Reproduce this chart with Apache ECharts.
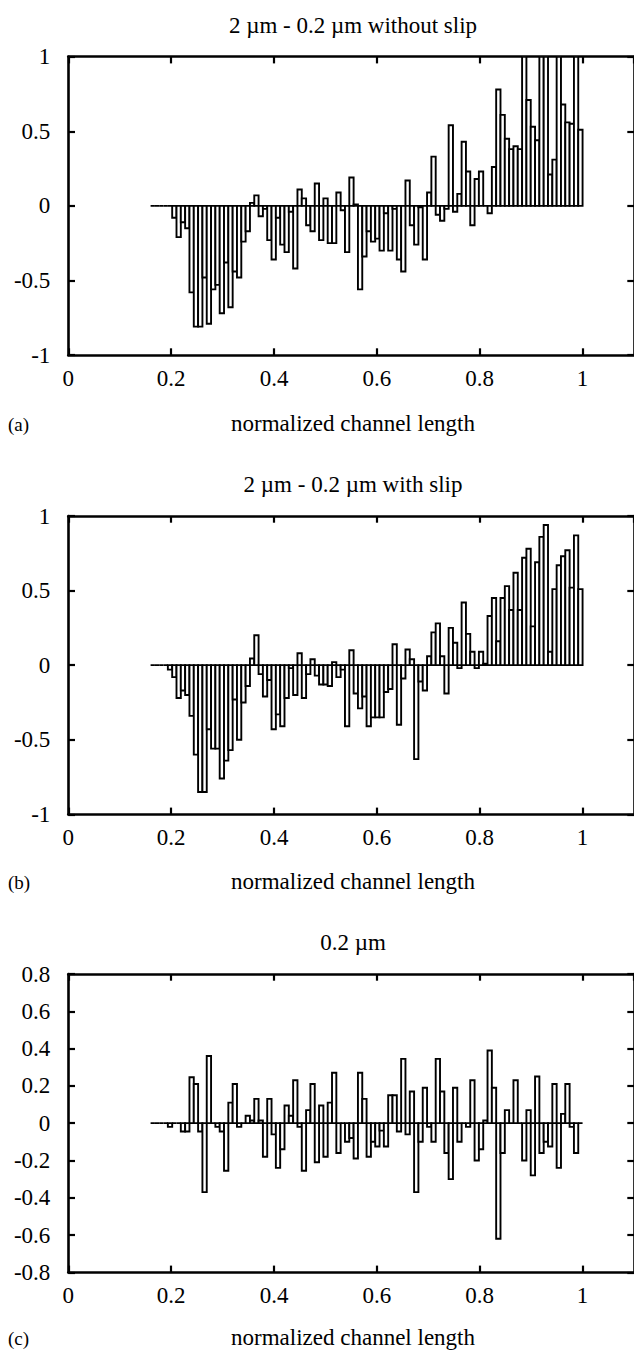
<!DOCTYPE html>
<html>
<head>
<meta charset="utf-8">
<script src="https://cdn.jsdelivr.net/npm/echarts@6/dist/echarts.min.js"></script>
<style>
html,body{margin:0;padding:0;background:#fff;}
#chart{width:634px;height:1351px;}
</style>
</head>
<body>
<div id="chart"></div>
<script>
// ---- data ----
const BIN_START = 0.16;   // left edge of first channel cell
const BIN_WIDTH = 0.0084; // cell width (normalized)
const titles = ['2 \u00b5m - 0.2 \u00b5m without slip', '2 \u00b5m - 0.2 \u00b5m with slip', '0.2 \u00b5m'];
const panelLabels = ['(a)', '(b)', '(c)'];
const xLabel = 'normalized channel length';
const xTicks = [0, 0.2, 0.4, 0.6, 0.8, 1];
const yRangeAB = [-1, 1];
const yRangeC = [-0.8, 0.8];

const valuesA = [0,0,0,0,0, -0.08,-0.21,-0.11,-0.15,-0.58, -0.81,-0.81,-0.48,-0.79,-0.56, -0.53,-0.72,-0.38,-0.68,-0.44,
 -0.48,-0.24,-0.17,0.02,0.07, -0.07,-0.02,-0.23,-0.36,-0.08, -0.26,-0.31,-0.04,-0.42,0.11, 0.05,-0.13,-0.17,0.15,-0.23,
 0.05,-0.25,-0.25,0.09,-0.03, -0.31,0.19,0.01,-0.56,-0.34, -0.17,-0.24,-0.22,-0.30,-0.05, -0.30,-0.02,-0.36,-0.44,0.17,
 -0.13,-0.26,-0.01,-0.36,0.09, 0.33,-0.06,-0.10,-0.02,0.54, -0.04,0.08,0.43,0.23,-0.13, 0.18,0.23,0.00,-0.05,0.26,
 0.78,0.61,0.45,0.38,0.40, 0.38,1.0,0.71,0.53,0.44, 1.0,1.0,0.21,0.31,1.0, 0.68,0.56,0.55,1.0,0.51];

const valuesB = [0,0,0,0,-0.03, -0.08,-0.22,-0.17,-0.20,-0.34, -0.60,-0.85,-0.85,-0.43,-0.56, -0.56,-0.76,-0.64,-0.57,-0.23,
 -0.50,-0.25,-0.14,0.045,0.20, -0.06,-0.21,-0.10,-0.43,-0.33, -0.41,-0.22,-0.02,-0.20,0.08, -0.22,-0.06,0.04,-0.07,-0.13,
 -0.13,-0.14,0.02,-0.08,-0.03, -0.41,0.10,-0.19,-0.29,-0.21, -0.41,-0.35,-0.35,-0.35,-0.18, -0.16,0.14,-0.40,-0.09,0.105,
 0.04,-0.63,-0.11,-0.17,0.06, 0.22,0.28,0.06,-0.19,0.25, 0.15,-0.02,0.42,0.21,0.09, -0.02,0.09,0.01,0.33,0.45,
 0.16,0.45,0.53,0.37,0.62, 0.37,0.72,0.78,0.26,0.69, 0.86,0.94,0.09,0.51,0.67, 0.73,0.77,0.52,0.87,0.51];

const valuesC = [0,0,0,0,-0.02, 0,0,-0.045,-0.045,0.246, 0.21,-0.045,-0.37,0.36,0, -0.02,-0.045,-0.255,0.11,0.21,
 -0.02,0,0.04,0.014,0.13, 0.014,-0.18,0.13,-0.06,-0.24, -0.14,0.095,0.04,0.23,-0.02, -0.255,0.07,0.21,-0.21,0.095,
 -0.18,0.11,0.27,-0.16,0, -0.10,-0.08,-0.19,0.27,0.13, -0.18,-0.10,-0.125,-0.04,-0.125, 0.15,0.15,-0.045,0.345,-0.06,
 0.17,-0.37,-0.10,0.19,-0.02, -0.10,0.345,0.17,-0.16,-0.30, 0.19,-0.10,0,-0.02,0.23, -0.20,-0.14,0.014,0.39,0.19,
 -0.62,-0.16,0.07,0,0.23, 0,-0.20,0.07,-0.28,0.25, -0.16,-0.10,-0.125,0.21,-0.24, 0.05,0.21,-0.02,-0.16,0];

// ---- layout ----
const FONT = "'Liberation Serif', 'Times New Roman', serif";
const FS = 23;
const PLOT_LEFT = 68.3;
const PLOT_W = 570.1;
const PLOT_H = 298.3;
const panels = [
  {top: 56.7, values: valuesA, yr: yRangeAB, yint: 0.5, titleY: 25, tickGap: 12, xlabY: 423},
  {top: 516,  values: valuesB, yr: yRangeAB, yint: 0.5, titleY: 484, tickGap: 12, xlabY: 881},
  {top: 974,  values: valuesC, yr: yRangeC, yint: 0.2, titleY: 942, tickGap: 12, xlabY: 1337}
];

const grids = [], xAxes = [], yAxes = [], series = [], graphics = [];
const lineW = 2.6;
const tickStyle = {show: true, inside: true, length: 6.7, lineStyle: {color: '#000', width: 2.2}};

panels.forEach((p, k) => {
  grids.push({left: PLOT_LEFT, top: p.top, width: PLOT_W, height: PLOT_H, containLabel: false});
  const xa = {
    type: 'value', gridIndex: k, min: 0, max: 1.1, interval: 0.2,
    axisLine: {show: true, onZero: false, lineStyle: {color: '#000', width: lineW}},
    axisTick: tickStyle, splitLine: {show: false},
    axisLabel: {show: true, margin: p.tickGap, color: '#000', fontFamily: FONT, fontSize: FS,
      showMaxLabel: false,
      formatter: v => (xTicks.some(t => Math.abs(t - v) < 1e-6) ? String(+v.toFixed(1)) : '')}
  };
  xAxes.push(xa);
  xAxes.push(Object.assign({}, xa, {position: 'top', axisLabel: {show: false}}));
  const ya = {
    type: 'value', gridIndex: k, min: p.yr[0], max: p.yr[1], interval: p.yint,
    axisLine: {show: true, onZero: false, lineStyle: {color: '#000', width: lineW}},
    axisTick: tickStyle, splitLine: {show: false},
    axisLabel: {show: true, margin: 18, color: '#000', fontFamily: FONT, fontSize: FS,
      formatter: v => String(+v.toFixed(2))}
  };
  yAxes.push(ya);
  yAxes.push(Object.assign({}, ya, {position: 'right', axisLabel: {show: false}}));

  const data = p.values.map((v, i) => [BIN_START + BIN_WIDTH * (i + 0.5), v]);
  series.push({
    type: 'custom', xAxisIndex: 2 * k, yAxisIndex: 2 * k, clip: true, silent: true,
    data: data,
    renderItem: function (params, api) {
      const x = api.value(0), v = api.value(1);
      const a = api.coord([x - BIN_WIDTH / 2, 0]);
      const b = api.coord([x + BIN_WIDTH / 2, v]);
      return {
        type: 'rect',
        shape: {x: a[0], y: Math.min(a[1], b[1]), width: b[0] - a[0], height: Math.abs(b[1] - a[1])},
        style: {fill: '#fff', stroke: '#000', lineWidth: 1.9}
      };
    }
  });

  graphics.push({type: 'text', x: 353, y: p.titleY,
    style: {text: titles[k], font: FS + 'px ' + FONT, fill: '#000', textAlign: 'center', textVerticalAlign: 'middle'}});
  graphics.push({type: 'text', x: 353, y: p.xlabY,
    style: {text: xLabel, font: FS + 'px ' + FONT, fill: '#000', textAlign: 'center', textVerticalAlign: 'middle'}});
  graphics.push({type: 'text', x: 8, y: p.xlabY + 1,
    style: {text: panelLabels[k], font: '19px ' + FONT, fill: '#000', textAlign: 'left', textVerticalAlign: 'middle'}});
});

const chart = echarts.init(document.getElementById('chart'), null, {renderer: 'svg'});
chart.setOption({
  animation: false,
  backgroundColor: '#fff',
  grid: grids,
  xAxis: xAxes,
  yAxis: yAxes,
  series: series,
  graphic: graphics
});
</script>
</body>
</html>
